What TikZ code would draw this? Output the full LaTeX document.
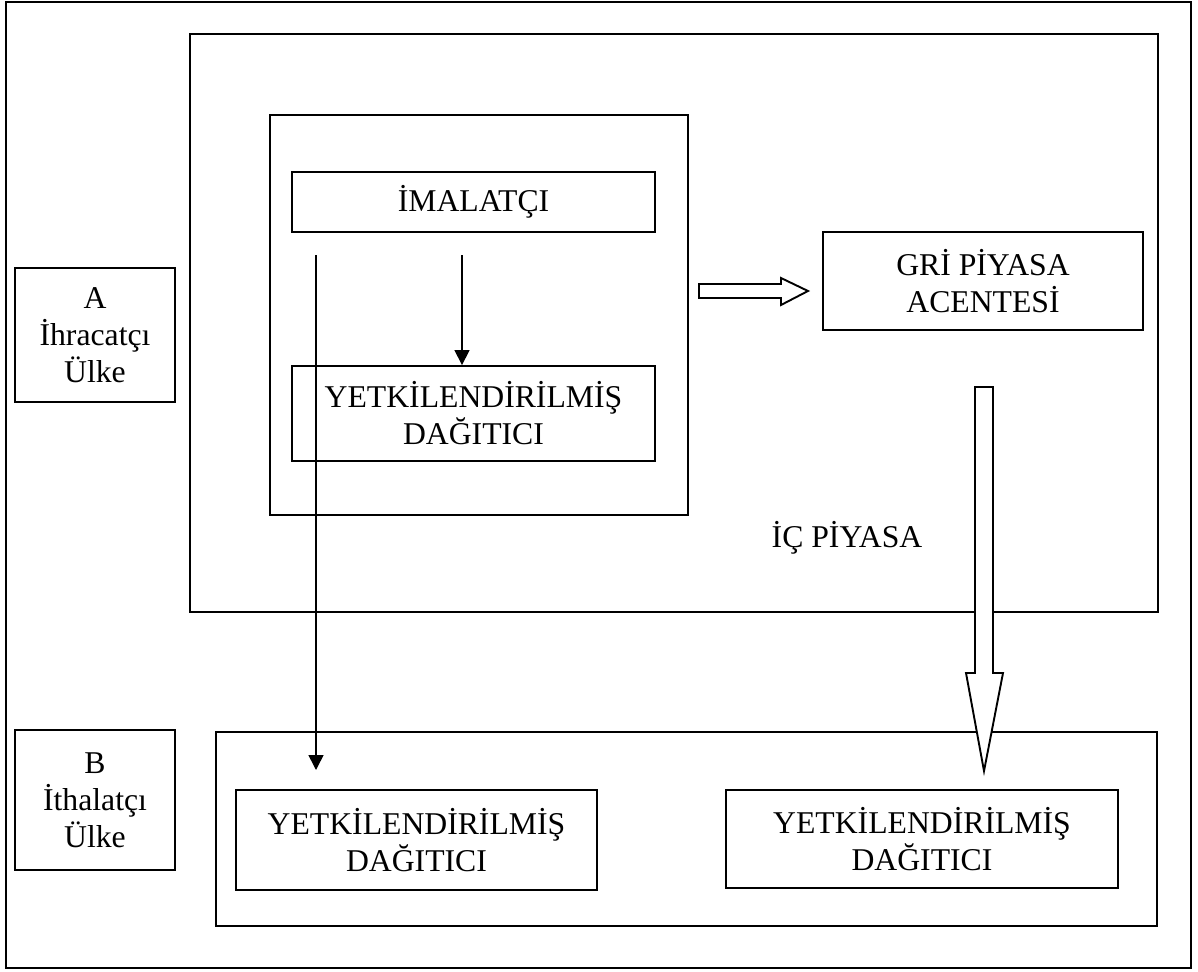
\documentclass[tikz,border=0pt]{standalone}
\usepackage{fontspec}
\setmainfont{Liberation Serif}
\usetikzlibrary{arrows.meta}
\begin{document}
\begin{tikzpicture}[x=1pt,y=-1pt,
  frame/.style={draw, line width=1.9pt, inner sep=0pt},
  box/.style={draw, line width=1.9pt, inner sep=0pt, align=center,
    font=\fontsize{31.7}{37}\selectfont},
  lbl/.style={inner sep=0pt, align=center, font=\fontsize{31.7}{37}\selectfont},
  thinarrow/.style={line width=1.6pt, -{Triangle[length=15pt,width=15pt]}},
  hollow/.style={draw, line width=1.9pt, fill=white, line join=miter}]
\useasboundingbox (0,0) rectangle (1198,971);
% frames
\node[frame, line width=2.4pt, minimum width=1185, minimum height=966] (outer) at (598.5,485) {};
\node[frame, minimum width=968, minimum height=578] (exporter) at (674,323) {};
\node[frame, minimum width=418, minimum height=400] (inner) at (479,315) {};
\node[frame, minimum width=941, minimum height=194] (importer) at (686.5,829) {};
% boxes
\node[box, minimum width=363, minimum height=60] (imal) at (473.5,202) {İMALATÇI};
\node[box, minimum width=363, minimum height=95] (yd1) at (473.5,413.5) {YETKİLENDİRİLMİŞ\\DAĞITICI};
\node[box, minimum width=320, minimum height=98] (gri) at (983,281) {GRİ PİYASA\\ACENTESİ};
\node[box, minimum width=160, minimum height=134] (abox) at (95,335) {A\\İhracatçı\\Ülke};
\node[box, minimum width=160, minimum height=140] (bbox) at (95,800) {B\\İthalatçı\\Ülke};
\node[box, minimum width=361, minimum height=100] (yd2) at (416.5,840) {YETKİLENDİRİLMİŞ\\DAĞITICI};
\node[box, minimum width=392, minimum height=98] (yd3) at (922,839) {YETKİLENDİRİLMİŞ\\DAĞITICI};
\node[lbl] (ic) at (847,538) {İÇ PİYASA};
% thin arrows
\coordinate (s1) at (316,255);
\coordinate (e1) at (316,770);
\coordinate (s2) at (462,255);
\draw[thinarrow] (s1) -- (e1);
\draw[thinarrow] (s2) -- (s2 |- yd1.north);
% hollow arrows
\path[hollow] (699,284) -- (781,284) -- (781,278) -- (808,291) -- (781,305) -- (781,298) -- (699,298) -- cycle;
\path[hollow] (975,387) -- (993,387) -- (993,673) -- (1003,673) -- (984,771) -- (966,673) -- (975,673) -- cycle;
\end{tikzpicture}
\end{document}
